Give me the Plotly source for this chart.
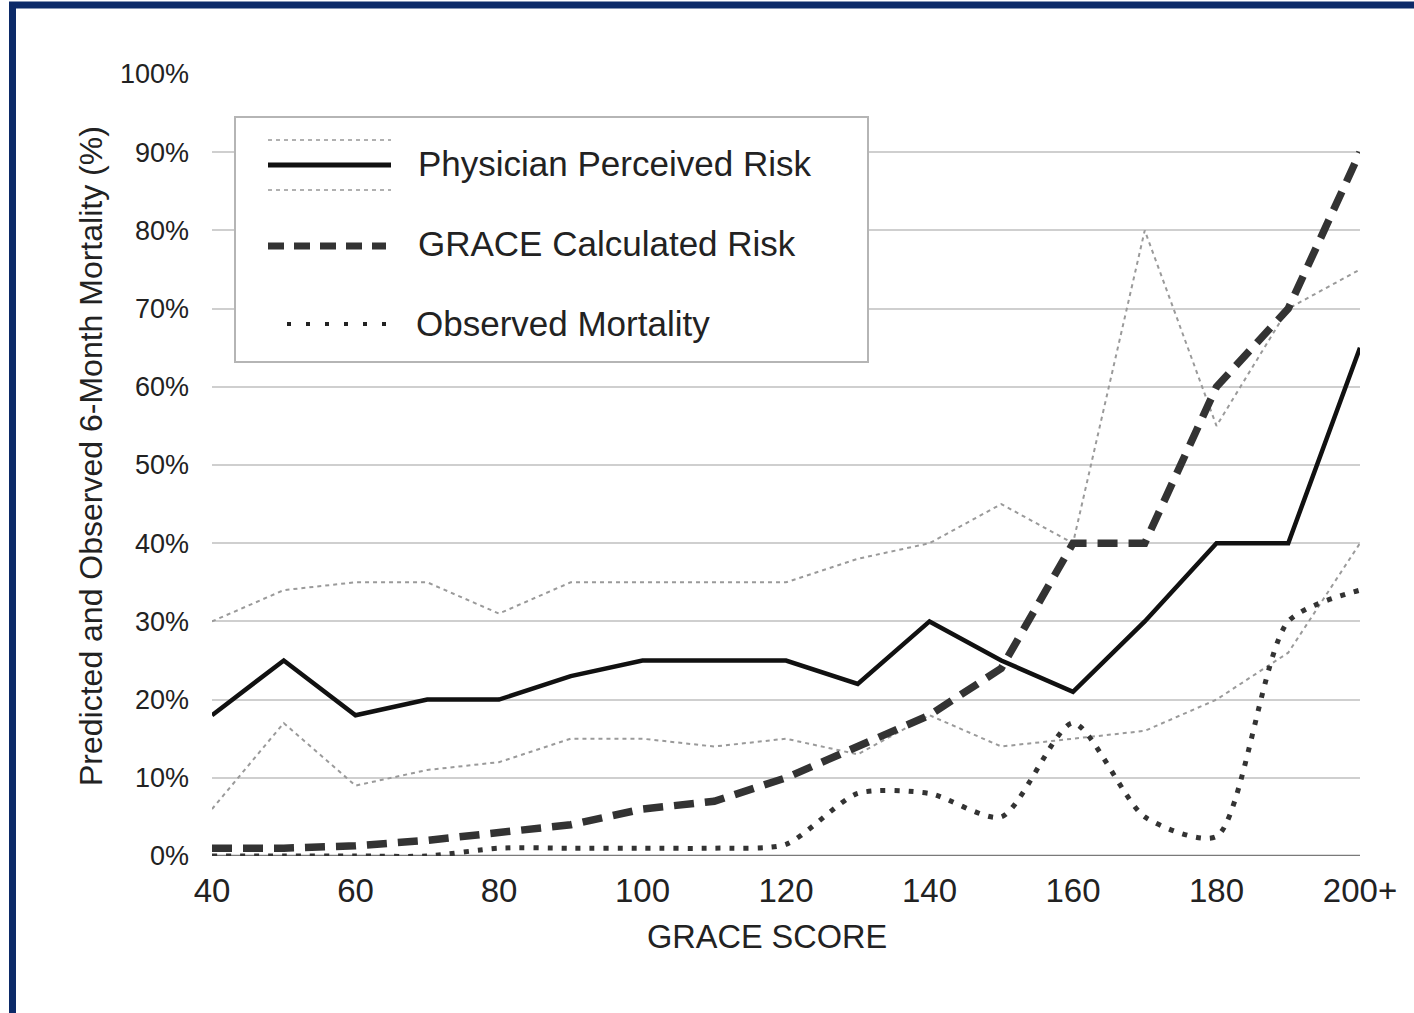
import plotly.graph_objects as go

# ---- data ----
grace_score = [40, 50, 60, 70, 80, 90, 100, 110, 120, 130, 140, 150, 160, 170, 180, 190, 200]
tick_vals = [40, 60, 80, 100, 120, 140, 160, 180, 200]
tick_text = ["40", "60", "80", "100", "120", "140", "160", "180", "200+"]
y_ticks = [0, 10, 20, 30, 40, 50, 60, 70, 80, 90, 100]

physician = [18, 25, 18, 20, 20, 23, 25, 25, 25, 22, 30, 25, 21, 30, 40, 40, 65]
physician_upper = [30, 34, 35, 35, 31, 35, 35, 35, 35, 38, 40, 45, 40, 80, 55, 70, 75]
physician_lower = [6, 17, 9, 11, 12, 15, 15, 14, 15, 13, 18, 14, 15, 16, 20, 26, 40]
grace_calc = [1, 1, 1.3, 2, 3, 4, 6, 7, 10, 14, 18, 24, 40, 40, 60, 70, 90]
observed = [0, 0, 0, 0, 1, 1, 1, 1, 1.5, 8, 8, 5, 17, 5, 2.5, 30, 34]

legend_labels = ["Physician Perceived Risk", "GRACE Calculated Risk", "Observed Mortality"]

# ---- layout geometry (pixels) ----
W, H = 1414, 1013
L, R, T, B = 212, 1360, 74, 856
FONT = "Liberation Sans, Arial, Helvetica, sans-serif"
TXT = "#222222"


def px(x):
    return (x - L) / (R - L)


def py(y):
    return (B - y) / (B - T)


fig = go.Figure()

ci_line = dict(color="#9a9a9a", width=2, dash="4px,4px")
fig.add_trace(go.Scatter(x=grace_score, y=physician_upper, mode="lines", line=ci_line,
                         showlegend=False, hoverinfo="skip"))
fig.add_trace(go.Scatter(x=grace_score, y=physician_lower, mode="lines", line=ci_line,
                         showlegend=False, hoverinfo="skip"))
fig.add_trace(go.Scatter(x=grace_score, y=observed, mode="lines", name=legend_labels[2],
                         line=dict(color="#333333", width=5, dash="5px,9px", shape="spline", smoothing=0.7),
                         showlegend=False))
fig.add_trace(go.Scatter(x=grace_score, y=grace_calc, mode="lines", name=legend_labels[1],
                         line=dict(color="#333333", width=7.5, dash="20px,11px"),
                         showlegend=False))
fig.add_trace(go.Scatter(x=grace_score, y=physician, mode="lines", name=legend_labels[0],
                         line=dict(color="#111111", width=4.5),
                         showlegend=False))

shapes = []
# frame border
shapes.append(dict(type="path", xref="paper", yref="paper",
                   path=f"M {px(12.5)} {py(1030)} L {px(12.5)} {py(5)} L {px(1430)} {py(5)}",
                   line=dict(color="#0c2a68", width=7), layer="above"))
# zero axis line
shapes.append(dict(type="line", xref="paper", yref="y", x0=0, x1=1, y0=0, y1=0,
                   line=dict(color="#7a7a7a", width=2.5), layer="below"))
# legend box
shapes.append(dict(type="rect", xref="paper", yref="paper",
                   x0=px(235), x1=px(868), y0=py(362), y1=py(117),
                   line=dict(color="#b5b5b5", width=2), fillcolor="white", layer="above"))
# legend samples
shapes.append(dict(type="line", xref="paper", yref="paper", x0=px(268), x1=px(391), y0=py(140), y1=py(140),
                   line=dict(color="#b0b0b0", width=2, dash="4px,4px"), layer="above"))
shapes.append(dict(type="line", xref="paper", yref="paper", x0=px(268), x1=px(391), y0=py(190), y1=py(190),
                   line=dict(color="#b0b0b0", width=2, dash="4px,4px"), layer="above"))
shapes.append(dict(type="line", xref="paper", yref="paper", x0=px(268), x1=px(391), y0=py(165), y1=py(165),
                   line=dict(color="#111111", width=5), layer="above"))
shapes.append(dict(type="line", xref="paper", yref="paper", x0=px(268), x1=px(386), y0=py(246), y1=py(246),
                   line=dict(color="#333333", width=7, dash="16px,10px"), layer="above"))
shapes.append(dict(type="line", xref="paper", yref="paper", x0=px(287), x1=px(392), y0=py(324), y1=py(324),
                   line=dict(color="#222222", width=4, dash="4px,15px"), layer="above"))

annotations = []
legend_y = [163, 243, 323]
legend_x = [416, 416, 414]
for lab, yy, xx in zip(legend_labels, legend_y, legend_x):
    annotations.append(dict(text=lab, xref="paper", yref="paper", x=px(xx), y=py(yy),
                            xanchor="left", yanchor="middle", showarrow=False,
                            font=dict(family=FONT, size=35, color=TXT)))
annotations.append(dict(text="GRACE SCORE", xref="paper", yref="paper", x=px(767), y=py(937),
                        xanchor="center", yanchor="middle", showarrow=False,
                        font=dict(family=FONT, size=32.5, color=TXT)))
annotations.append(dict(text="Predicted and Observed 6-Month Mortality (%)", xref="paper", yref="paper",
                        x=px(91), y=py(456), xanchor="center", yanchor="middle", textangle=-90,
                        showarrow=False, font=dict(family=FONT, size=32, color=TXT)))

fig.update_layout(
    width=W, height=H,
    margin=dict(l=L, r=W - R, t=T, b=H - B),
    paper_bgcolor="white", plot_bgcolor="white",
    shapes=shapes, annotations=annotations,
    showlegend=False,
    xaxis=dict(range=[40, 200], tickvals=tick_vals, ticktext=tick_text, showgrid=False,
               zeroline=False, showline=False, ticks="", ticklabelstandoff=12,
               tickfont=dict(family=FONT, size=33, color=TXT), fixedrange=True),
    yaxis=dict(range=[0, 100], tickvals=y_ticks, ticktext=[f"{v}%" for v in y_ticks],
               showgrid=True, gridcolor="#cfcfcf", gridwidth=2, zeroline=False, showline=False,
               ticks="", ticklabelstandoff=22,
               tickfont=dict(family=FONT, size=27, color=TXT), fixedrange=True),
)

fig.write_html("out.html")
